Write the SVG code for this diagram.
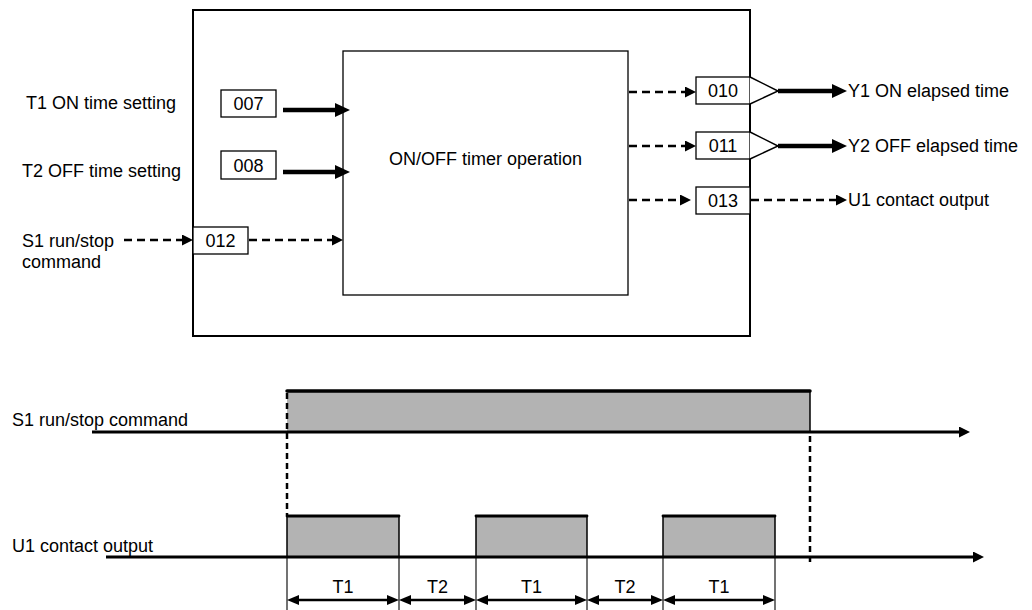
<svg xmlns="http://www.w3.org/2000/svg" width="1032" height="610" viewBox="0 0 1032 610">
<defs>
<style>
text{font-family:"Liberation Sans",Arial,sans-serif;font-size:18px;fill:#000}
.box{fill:#fff;stroke:#000;stroke-width:1.3}
.thick{stroke:#000;stroke-width:4.5;fill:none}
.dash{stroke:#000;stroke-width:2.5;stroke-dasharray:8 5;fill:none}
.axis{stroke:#000;stroke-width:3;fill:none}
.pulse{fill:#b3b3b3;stroke:none}
.edge{stroke:#000;stroke-width:1.5;fill:none}
.ref{stroke:#000;stroke-width:1.1;fill:none}
.dim{stroke:#000;stroke-width:2.5;fill:none}
.c{text-anchor:middle}
</style>
<marker id="big" markerUnits="userSpaceOnUse" markerWidth="16" markerHeight="16" refX="0" refY="7" orient="auto"><path d="M0,0 L15,7 L0,14 Z" fill="#000"/></marker>
<marker id="sm" markerUnits="userSpaceOnUse" markerWidth="12" markerHeight="12" refX="0" refY="5.5" orient="auto"><path d="M0,0 L11,5.5 L0,11 Z" fill="#000"/></marker>
<marker id="dimA" markerUnits="userSpaceOnUse" markerWidth="14" markerHeight="12" refX="0" refY="5" orient="auto-start-reverse"><path d="M0,0 L12,5 L0,10 Z" fill="#000"/></marker>
</defs>
<rect x="0" y="0" width="1032" height="610" fill="#fff"/>

<g id="outer-block"><rect x="193" y="10" width="557" height="326" fill="#fff" stroke="#000" stroke-width="2"/></g>
<g id="timer-operation"><rect class="box" x="343" y="51" width="285" height="244"/><text class="c" x="485.5" y="165">ON/OFF timer operation</text></g>

<g id="label-t1"><text x="26" y="109">T1 ON time setting</text></g>
<g id="label-t2"><text x="22" y="177">T2 OFF time setting</text></g>
<g id="label-s1"><text x="22" y="247">S1 run/stop</text><text x="22" y="268">command</text></g>

<g id="p007"><rect class="box" x="221" y="90" width="55" height="27"/><text class="c" x="248.5" y="110">007</text></g>
<g id="p008"><rect class="box" x="221" y="151" width="55" height="28"/><text class="c" x="248.5" y="172">008</text></g>
<g id="p012"><rect class="box" x="193" y="227" width="55" height="27"/><text class="c" x="220.5" y="247">012</text></g>
<g id="p010"><rect class="box" x="696" y="77" width="54" height="27"/><text class="c" x="723" y="97">010</text></g>
<g id="p011"><rect class="box" x="696" y="132" width="54" height="27"/><text class="c" x="723" y="152">011</text></g>
<g id="p013"><rect class="box" x="696" y="187" width="54" height="27"/><text class="c" x="723" y="207">013</text></g>

<g id="amp010"><path d="M750,77 L778,91 L750,104" fill="#fff" stroke="#000" stroke-width="1.5"/></g>
<g id="amp011"><path d="M750,132 L778,146 L750,159" fill="#fff" stroke="#000" stroke-width="1.5"/></g>

<g id="label-y1"><text x="848" y="97">Y1 ON elapsed time</text></g>
<g id="label-y2"><text x="848" y="152">Y2 OFF elapsed time</text></g>
<g id="label-u1"><text x="848" y="206">U1 contact output</text></g>

<g id="connectors">
<line class="thick" x1="283" y1="110" x2="335" y2="110" marker-end="url(#big)"/>
<line class="thick" x1="283" y1="172" x2="335" y2="172" marker-end="url(#big)"/>
<line class="dash" x1="124" y1="240" x2="182" y2="240" marker-end="url(#sm)"/>
<line class="dash" x1="249" y1="240" x2="332" y2="240" marker-end="url(#sm)"/>
<line class="dash" x1="629" y1="92" x2="685" y2="92" marker-end="url(#sm)"/>
<line class="dash" x1="629" y1="146" x2="685" y2="146" marker-end="url(#sm)"/>
<line class="dash" x1="629" y1="200" x2="680" y2="200" marker-end="url(#sm)"/>
<line class="thick" x1="778" y1="91" x2="832" y2="91" marker-end="url(#big)"/>
<line class="thick" x1="778" y1="146" x2="832" y2="146" marker-end="url(#big)"/>
<line class="dash" x1="751" y1="200" x2="836" y2="200" marker-end="url(#sm)"/>
</g>

<g id="timing-s1">
<text x="12" y="426">S1 run/stop command</text>
<rect class="pulse" x="287" y="391" width="523" height="41"/>
<line x1="287" y1="391" x2="810" y2="391" stroke="#000" stroke-width="3.5" stroke-linecap="round"/>
<line class="edge" x1="810" y1="391" x2="810" y2="432"/>
<line class="axis" x1="92" y1="432" x2="959" y2="432" marker-end="url(#sm)"/>
</g>

<g id="timing-u1">
<text x="12" y="552">U1 contact output</text>
<rect class="pulse" x="287" y="516" width="112" height="41"/>
<rect class="pulse" x="476" y="516" width="111" height="41"/>
<rect class="pulse" x="663" y="516" width="112" height="41"/>
<g stroke="#000" stroke-width="2.8" stroke-linecap="round">
<line x1="287" y1="516" x2="399" y2="516"/>
<line x1="476" y1="516" x2="587" y2="516"/>
<line x1="663" y1="516" x2="775" y2="516"/>
</g>
<path class="edge" d="M287,516 V557 M399,516 V557 M476,516 V557 M587,516 V557 M663,516 V557 M775,516 V557"/>
<line class="axis" x1="106" y1="557" x2="973" y2="557" marker-end="url(#sm)"/>
</g>

<g id="sync-lines">
<line x1="287" y1="393" x2="287" y2="515" stroke="#000" stroke-width="2.5" stroke-dasharray="6 4"/>
<line x1="810" y1="436" x2="810" y2="565" stroke="#000" stroke-width="2.5" stroke-dasharray="6 4"/>
</g>

<g id="dimensions">
<path class="ref" d="M287,558 V610 M399,558 V610 M476,558 V610 M587,558 V610 M663,558 V610 M775,558 V610"/>
<line class="dim" x1="299" y1="600" x2="387" y2="600" marker-start="url(#dimA)" marker-end="url(#dimA)"/>
<line class="dim" x1="411" y1="600" x2="464" y2="600" marker-start="url(#dimA)" marker-end="url(#dimA)"/>
<line class="dim" x1="488" y1="600" x2="575" y2="600" marker-start="url(#dimA)" marker-end="url(#dimA)"/>
<line class="dim" x1="599" y1="600" x2="651" y2="600" marker-start="url(#dimA)" marker-end="url(#dimA)"/>
<line class="dim" x1="675" y1="600" x2="763" y2="600" marker-start="url(#dimA)" marker-end="url(#dimA)"/>
<text class="c" x="343" y="593">T1</text>
<text class="c" x="437.5" y="593">T2</text>
<text class="c" x="531.5" y="593">T1</text>
<text class="c" x="625" y="593">T2</text>
<text class="c" x="719" y="593">T1</text>
</g>
</svg>
